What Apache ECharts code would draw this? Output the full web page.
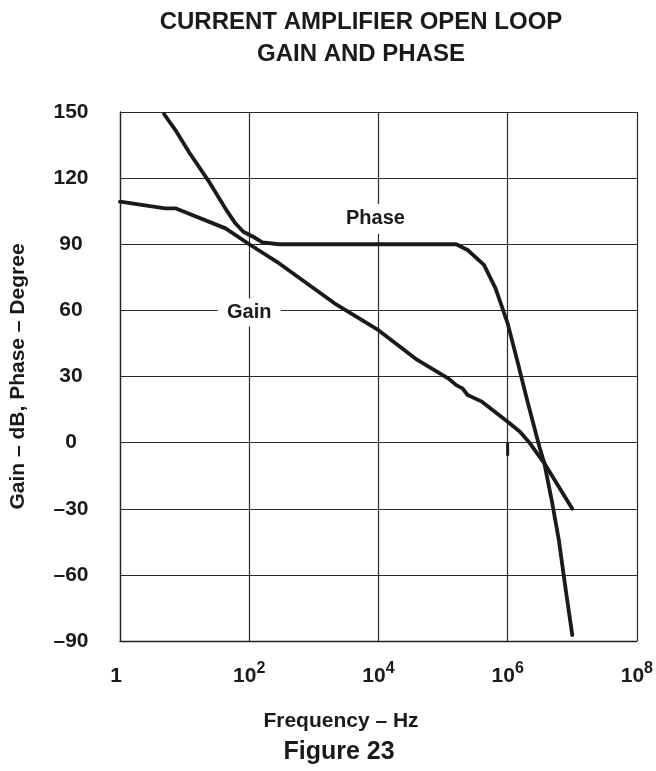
<!DOCTYPE html>
<html><head><meta charset="utf-8">
<script src="https://cdn.jsdelivr.net/npm/echarts@6/dist/echarts.min.js"></script>
<style>html,body{margin:0;padding:0;background:#fff}#c{width:656px;height:771px}</style>
</head><body><div id="c"></div>
<script>
// ---- data ----
const gainFreq = [1, 5, 7.2, 43, 100, 292, 2089, 10000, 40000, 120000, 160000, 200000, 240000, 400000, 1000000, 1550000, 2200000, 3700000, 10000000];
const gainDb   = [109.3, 106.3, 106.3, 97.2, 90, 81.3, 63.2, 51, 37.5, 29.2, 26.1, 24.6, 21.6, 18.6, 9.5, 4.9, -0.2, -9.4, -30];
const phaseFreq = [4.8, 7.2, 12, 23, 46, 61, 81, 115, 160, 290, 160000, 240000, 430000, 650000, 1000000, 1400000, 2000000, 3100000, 3700000, 4900000, 6200000, 7800000, 10000000];
const phaseDeg  = [149.1, 141.8, 131.3, 119.1, 104.8, 99.5, 95.7, 93.4, 90.9, 90, 90, 87.4, 80.6, 70, 54.1, 37.5, 19.3, -1.9, -9.4, -27.5, -44.2, -65.4, -87.3];
const markFreq = [1000000, 1000000];
const markVal  = [-0.5, -5.5];
const xTickExponents = [0, 2, 4, 6, 8];
const yTicks = [-90, -60, -30, 0, 30, 60, 90, 120, 150];
const gainLabel = {text: 'Gain', freq: 100, value: 59};
const phaseLabel = {text: 'Phase', freq: 9000, value: 101.5};

const FONT = '"Liberation Sans", Arial, Helvetica, sans-serif';
const INK = '#1a1a1a';
const zip = (a, b) => a.map((v, i) => [v, b[i]]);

const chart = echarts.init(document.getElementById('c'), null, {renderer: 'canvas'});
chart.setOption({
  animation: false,
  backgroundColor: '#fff',
  grid: {left: 110, right: 16, top: 112, bottom: 130, containLabel: false},
  xAxis: [
    {type: 'log', logBase: 10, min: 1, max: 1e8, show: false},
    {
      type: 'value', min: xTickExponents[0], max: xTickExponents[xTickExponents.length - 1], interval: 2,
      position: 'bottom',
      axisLine: {show: true, lineStyle: {color: '#222', width: 1.3}},
      axisTick: {show: false},
      splitLine: {show: true, lineStyle: {color: '#2a2a2a', width: 1.2}},
      axisLabel: {
        margin: 20,
        formatter: v => v === 0 ? '{o|1}' : '{b|10}{s|' + v + '}',
        rich: {
          o: {fontFamily: FONT, fontSize: 21, fontWeight: 'bold', color: INK, lineHeight: 26, verticalAlign: 'bottom', padding: [0, 8, 0, 0]},
          b: {fontFamily: FONT, fontSize: 21, fontWeight: 'bold', color: INK, lineHeight: 26, verticalAlign: 'bottom'},
          s: {fontFamily: FONT, fontSize: 16, fontWeight: 'bold', color: INK, lineHeight: 26, verticalAlign: 'top', padding: [0, 0, 6, 0]}
        }
      }
    }
  ],
  yAxis: {
    type: 'value', min: yTicks[0], max: yTicks[yTicks.length - 1], interval: 30,
    name: 'Gain – dB, Phase – Degree', nameLocation: 'middle', nameGap: 91, nameRotate: 90,
    nameTextStyle: {fontFamily: FONT, fontSize: 21, fontWeight: 'bold', color: INK},
    axisLine: {show: true, lineStyle: {color: '#222', width: 1.3}},
    axisTick: {show: false},
    splitLine: {show: true, lineStyle: {color: '#2a2a2a', width: 1.2}},
    axisLabel: {
      margin: 49, align: 'center',
      fontFamily: FONT, fontSize: 21, fontWeight: 'bold', color: INK,
      formatter: v => String(v).replace('-', '–')
    }
  },
  series: [
    {
      name: 'Gain', type: 'line', xAxisIndex: 0, data: zip(gainFreq, gainDb),
      symbol: 'none', smooth: false, z: 3,
      lineStyle: {color: INK, width: 3.8, cap: 'round', join: 'round'},
      markPoint: {
        symbol: 'rect', symbolSize: [63, 28], silent: true,
        itemStyle: {color: '#fff'},
        label: {show: true, position: 'inside', formatter: gainLabel.text, fontFamily: FONT, fontSize: 20, fontWeight: 'bold', color: INK},
        data: [{coord: [gainLabel.freq, gainLabel.value]}]
      }
    },
    {
      name: 'Phase', type: 'line', xAxisIndex: 0, data: zip(phaseFreq, phaseDeg),
      symbol: 'none', smooth: false, z: 3,
      lineStyle: {color: INK, width: 3.8, cap: 'round', join: 'round'},
      markPoint: {
        symbol: 'rect', symbolSize: [68, 30], silent: true,
        itemStyle: {color: '#fff'},
        label: {show: true, position: 'inside', formatter: phaseLabel.text, fontFamily: FONT, fontSize: 20, fontWeight: 'bold', color: INK},
        data: [{coord: [phaseLabel.freq, phaseLabel.value]}]
      }
    },
    {
      name: 'mark', type: 'line', xAxisIndex: 0, data: zip(markFreq, markVal),
      symbol: 'none', z: 3,
      lineStyle: {color: INK, width: 3, cap: 'round'}
    }
  ],
  graphic: [
    {type: 'text', x: 361, y: 22, style: {text: 'CURRENT AMPLIFIER OPEN LOOP', font: 'bold 24px ' + FONT, fill: INK, textAlign: 'center', textVerticalAlign: 'middle'}},
    {type: 'text', x: 361, y: 54, style: {text: 'GAIN AND PHASE', font: 'bold 24px ' + FONT, fill: INK, textAlign: 'center', textVerticalAlign: 'middle'}},
    {type: 'text', x: 341, y: 721, style: {text: 'Frequency – Hz', font: 'bold 21px ' + FONT, fill: INK, textAlign: 'center', textVerticalAlign: 'middle'}},
    {type: 'text', x: 339, y: 752, style: {text: 'Figure 23', font: 'bold 25px ' + FONT, fill: INK, textAlign: 'center', textVerticalAlign: 'middle'}}
  ]
});
</script>
</body></html>
